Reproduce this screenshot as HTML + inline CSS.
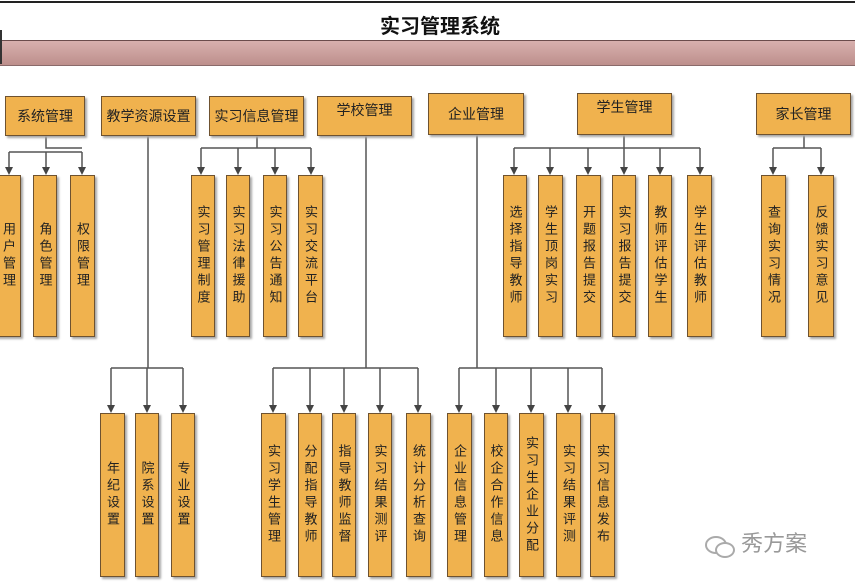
<!DOCTYPE html>
<html><head><meta charset="utf-8"><style>
body{margin:0;width:855px;height:582px;background:#fff;position:relative;overflow:hidden;font-family:"Liberation Sans","Noto Sans CJK SC",sans-serif;}
.b{position:absolute;background:#f0b24e;border:1px solid #6e5230;box-shadow:2px 2px 2px #a8a8a8;box-sizing:border-box;color:#222;}
.t{display:flex;align-items:center;justify-content:center;font-size:14px;}
.v{display:flex;align-items:center;justify-content:center;}
.v span{writing-mode:vertical-rl;text-orientation:upright;font-size:13px;letter-spacing:4px;color:#222;}
svg{position:absolute;left:0;top:0}
</style></head><body>
<div style="position:absolute;left:0;top:1px;width:855px;height:2px;background:#222"></div>
<div style="position:absolute;left:0;top:10px;width:880px;text-align:center;font-size:20px;font-weight:bold;color:#111">实习管理系统</div>
<div style="position:absolute;left:0;top:40px;width:855px;height:24px;background:linear-gradient(#d8b0ae,#bd8f8c);border-top:1px solid #6b4c4c;border-bottom:1px solid #8a6a6a"></div>
<div style="position:absolute;left:0;top:30px;width:2px;height:34px;background:#333"></div>
<svg width="855" height="582">
<g stroke="#555" stroke-width="1.5" fill="none">
<path d="M46,136V148H82M9,152H82"/>
<path d="M257,136V148M201,148H311"/>
<path d="M624,135V148M514,148H700"/>
<path d="M804,135V148M773,148H821"/>
<path d="M148,136V368M111,368H183"/>
<path d="M366,136V368M273,368H418"/>
<path d="M477,135V368M459,368H602"/>
<path d="M9,152V168M46,152V168M82,152V168M201,148V168M238,148V168M275,148V168M311,148V168M514,148V168M550,148V168M588,148V168M624,148V168M660,148V168M700,148V168M773,148V168M821,148V168M111,368V406M147,368V406M183,368V406M273,368V406M310,368V406M344,368V406M380,368V406M418,368V406M459,368V406M496,368V406M531,368V406M568,368V406M602,368V406"/>
</g>
<g fill="#444">
<path d="M5,167h8l-4,8zM42,167h8l-4,8zM78,167h8l-4,8zM197,167h8l-4,8zM234,167h8l-4,8zM271,167h8l-4,8zM307,167h8l-4,8zM510,167h8l-4,8zM546,167h8l-4,8zM584,167h8l-4,8zM620,167h8l-4,8zM656,167h8l-4,8zM696,167h8l-4,8zM769,167h8l-4,8zM817,167h8l-4,8z"/>
<path d="M107,405h8l-4,8zM143,405h8l-4,8zM179,405h8l-4,8zM269,405h8l-4,8zM306,405h8l-4,8zM340,405h8l-4,8zM376,405h8l-4,8zM414,405h8l-4,8zM455,405h8l-4,8zM492,405h8l-4,8zM527,405h8l-4,8zM564,405h8l-4,8zM598,405h8l-4,8z"/>
</g></svg>
<div class="b t" style="left:5px;top:96px;width:80px;height:40px">系统管理</div>
<div class="b t" style="left:101px;top:96px;width:95px;height:40px">教学资源设置</div>
<div class="b t" style="left:209px;top:96px;width:95px;height:40px">实习信息管理</div>
<div class="b t" style="left:317px;top:96px;width:95px;height:40px;align-items:flex-start;padding-top:3px">学校管理</div>
<div class="b t" style="left:428px;top:93px;width:96px;height:42px">企业管理</div>
<div class="b t" style="left:577px;top:93px;width:95px;height:42px;align-items:flex-start;padding-top:3px">学生管理</div>
<div class="b t" style="left:756px;top:93px;width:95px;height:42px">家长管理</div>

<div class="b v" style="left:-4px;top:175px;width:25px;height:162px"><span>用户管理</span></div>
<div class="b v" style="left:33px;top:175px;width:24px;height:162px"><span>角色管理</span></div>
<div class="b v" style="left:70px;top:175px;width:25px;height:162px"><span>权限管理</span></div>
<div class="b v" style="left:191px;top:175px;width:24px;height:162px"><span>实习管理制度</span></div>
<div class="b v" style="left:226px;top:175px;width:24px;height:162px"><span>实习法律援助</span></div>
<div class="b v" style="left:263px;top:175px;width:24px;height:162px"><span>实习公告通知</span></div>
<div class="b v" style="left:298px;top:175px;width:25px;height:162px"><span>实习交流平台</span></div>
<div class="b v" style="left:503px;top:175px;width:24px;height:162px"><span>选择指导教师</span></div>
<div class="b v" style="left:538px;top:175px;width:25px;height:162px"><span>学生顶岗实习</span></div>
<div class="b v" style="left:576px;top:175px;width:25px;height:162px"><span>开题报告提交</span></div>
<div class="b v" style="left:612px;top:175px;width:24px;height:162px"><span>实习报告提交</span></div>
<div class="b v" style="left:648px;top:175px;width:24px;height:162px"><span>教师评估学生</span></div>
<div class="b v" style="left:687px;top:175px;width:25px;height:162px"><span>学生评估教师</span></div>
<div class="b v" style="left:761px;top:175px;width:25px;height:162px"><span>查询实习情况</span></div>
<div class="b v" style="left:808px;top:175px;width:26px;height:162px"><span>反馈实习意见</span></div>

<div class="b v" style="left:100px;top:413px;width:25px;height:164px"><span>年纪设置</span></div>
<div class="b v" style="left:135px;top:413px;width:24px;height:164px"><span>院系设置</span></div>
<div class="b v" style="left:171px;top:413px;width:24px;height:164px"><span>专业设置</span></div>
<div class="b v" style="left:261px;top:413px;width:25px;height:164px"><span>实习学生管理</span></div>
<div class="b v" style="left:298px;top:413px;width:24px;height:164px"><span>分配指导教师</span></div>
<div class="b v" style="left:332px;top:413px;width:24px;height:164px"><span>指导教师监督</span></div>
<div class="b v" style="left:368px;top:413px;width:24px;height:164px"><span>实习结果测评</span></div>
<div class="b v" style="left:406px;top:413px;width:25px;height:164px"><span>统计分析查询</span></div>
<div class="b v" style="left:447px;top:413px;width:25px;height:164px"><span>企业信息管理</span></div>
<div class="b v" style="left:484px;top:413px;width:24px;height:164px"><span>校企合作信息</span></div>
<div class="b v" style="left:519px;top:413px;width:25px;height:164px"><span>实习生企业分配</span></div>
<div class="b v" style="left:556px;top:413px;width:25px;height:164px"><span>实习结果评测</span></div>
<div class="b v" style="left:590px;top:413px;width:25px;height:164px"><span>实习信息发布</span></div>

<div style="position:absolute;left:705px;top:526px;font-size:22px;color:#999">
<span style="display:inline-block;width:30px;height:22px;vertical-align:middle;position:relative;">
<span style="position:absolute;left:0;top:2px;width:18px;height:14px;border:2px solid #aaa;border-radius:50%"></span>
<span style="position:absolute;left:10px;top:8px;width:16px;height:12px;border:2px solid #aaa;border-radius:50%;background:#fff"></span>
</span> 秀方案</div>
</body></html>
